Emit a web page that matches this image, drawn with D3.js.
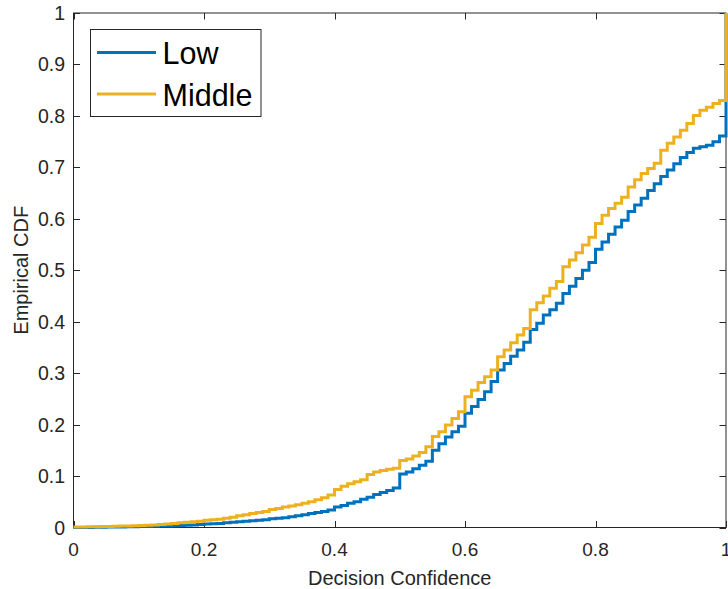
<!DOCTYPE html>
<html>
<head>
<meta charset="utf-8">
<script src="https://cdn.jsdelivr.net/npm/d3@7"></script>
<style>
  html, body { margin: 0; padding: 0; background: #fff; }
  svg { display: block; font-family: "Liberation Sans", Arial, Helvetica, sans-serif; }
</style>
</head>
<body>
<svg id="chart" width="728" height="589"></svg>
<script>
// Confidence levels (step positions of the empirical CDF), 0.00 .. 1.00
const confidence = d3.range(0, 101).map(i => i / 100);

// Empirical CDF value held from each confidence level onward
const cdfLow = [
  0, 0, 0, 0.0005, 0.0005, 0.001, 0.001, 0.001, 0.0015, 0.0015,
  0.002, 0.002, 0.0025, 0.003, 0.003, 0.0035, 0.004, 0.0045, 0.005, 0.006,
  0.007, 0.0075, 0.008, 0.009, 0.010, 0.011, 0.012, 0.013, 0.014, 0.015,
  0.017, 0.018, 0.019, 0.021, 0.023, 0.025, 0.027, 0.029, 0.031, 0.034,
  0.040, 0.043, 0.047, 0.050, 0.055, 0.059, 0.064, 0.068, 0.072, 0.077,
  0.104, 0.108, 0.114, 0.121, 0.129, 0.150, 0.163, 0.176, 0.186, 0.197,
  0.222, 0.235, 0.249, 0.264, 0.284, 0.306, 0.319, 0.333, 0.345, 0.360,
  0.385, 0.397, 0.413, 0.423, 0.436, 0.455, 0.469, 0.484, 0.500, 0.515,
  0.541, 0.555, 0.570, 0.584, 0.597, 0.614, 0.627, 0.640, 0.655, 0.668,
  0.682, 0.695, 0.707, 0.719, 0.729, 0.737, 0.740, 0.743, 0.750, 0.761,
  1
];

const cdfMiddle = [
  0.001, 0.001, 0.0015, 0.0015, 0.002, 0.002, 0.0025, 0.003, 0.003, 0.0035,
  0.004, 0.0045, 0.005, 0.006, 0.007, 0.008, 0.009, 0.010, 0.011, 0.012,
  0.014, 0.015, 0.016, 0.018, 0.020, 0.023, 0.025, 0.027, 0.029, 0.031,
  0.035, 0.037, 0.040, 0.042, 0.044, 0.047, 0.050, 0.054, 0.058, 0.063,
  0.074, 0.080, 0.085, 0.089, 0.093, 0.103, 0.108, 0.111, 0.113, 0.115,
  0.130, 0.133, 0.139, 0.146, 0.157, 0.177, 0.186, 0.199, 0.212, 0.225,
  0.254, 0.267, 0.282, 0.293, 0.306, 0.332, 0.345, 0.359, 0.374, 0.387,
  0.423, 0.437, 0.450, 0.465, 0.478, 0.507, 0.520, 0.534, 0.549, 0.564,
  0.591, 0.607, 0.620, 0.630, 0.642, 0.662, 0.676, 0.688, 0.698, 0.708,
  0.733, 0.747, 0.759, 0.772, 0.785, 0.801, 0.811, 0.817, 0.824, 0.830,
  1
];

const seriesNames = ["Low", "Middle"];
const seriesColors = ["#0072BD", "#EDB120"];
const xTicks = [0, 0.2, 0.4, 0.6, 0.8, 1];
const yTicks = [0, 0.1, 0.2, 0.3, 0.4, 0.5, 0.6, 0.7, 0.8, 0.9, 1];
const xLabel = "Decision Confidence";
const yLabel = "Empirical CDF";

const svg = d3.select("#chart");
const plotLeft = 73.5, plotRight = 726, plotTop = 13, plotBottom = 527.5;
const axisColor = "#262626";

const x = d3.scaleLinear().domain([0, 1]).range([plotLeft, plotRight]);
const y = d3.scaleLinear().domain([0, 1]).range([plotBottom, plotTop]);

const fmt = d => d === 0 || d === 1 ? String(d) : d.toFixed(1);

// Box and inward ticks
const g = svg.append("g");
g.append("rect")
  .attr("x", plotLeft).attr("y", plotTop)
  .attr("width", plotRight - plotLeft).attr("height", plotBottom - plotTop)
  .attr("fill", "none").attr("stroke", axisColor).attr("stroke-width", 1);

const tickLen = 6.5;
g.selectAll(".xt").data(xTicks).join("g").each(function(d) {
  const s = d3.select(this), px = Math.round(x(d)) + 0.5;
  s.append("line").attr("x1", px).attr("x2", px).attr("y1", plotBottom).attr("y2", plotBottom - tickLen)
    .attr("stroke", axisColor);
  s.append("line").attr("x1", px).attr("x2", px).attr("y1", plotTop).attr("y2", plotTop + tickLen)
    .attr("stroke", axisColor);
  s.append("text").attr("x", x(d)).attr("y", 556)
    .attr("text-anchor", "middle").attr("font-size", 19).attr("fill", axisColor)
    .text(fmt(d));
});

g.selectAll(".yt").data(yTicks).join("g").each(function(d) {
  const s = d3.select(this), py = Math.round(y(d)) + 0.5;
  s.append("line").attr("x1", plotLeft).attr("x2", plotLeft + tickLen).attr("y1", py).attr("y2", py)
    .attr("stroke", axisColor);
  s.append("line").attr("x1", plotRight).attr("x2", plotRight - tickLen).attr("y1", py).attr("y2", py)
    .attr("stroke", axisColor);
  s.append("text").attr("x", 65).attr("y", y(d) + 7)
    .attr("text-anchor", "end").attr("font-size", 19.5).attr("fill", axisColor)
    .text(fmt(d));
});

// Axis titles
svg.append("text").attr("x", (plotLeft + plotRight) / 2).attr("y", 585)
  .attr("text-anchor", "middle").attr("font-size", 20).attr("fill", axisColor)
  .text(xLabel);
svg.append("text")
  .attr("transform", `translate(28,${(plotTop + plotBottom) / 2}) rotate(-90)`)
  .attr("text-anchor", "middle").attr("font-size", 20).attr("fill", axisColor)
  .text(yLabel);

// ECDF staircases
const line = d3.line()
  .x(d => x(d[0]))
  .y(d => y(d[1]))
  .curve(d3.curveStepAfter);

[cdfLow, cdfMiddle].forEach((vals, i) => {
  const pts = confidence.map((c, k) => [c, vals[k]]);
  svg.append("path")
    .datum(pts)
    .attr("d", line)
    .attr("fill", "none")
    .attr("stroke", seriesColors[i])
    .attr("stroke-width", 3)
    .attr("stroke-linejoin", "miter");
});

// Legend
const lg = svg.append("g");
lg.append("rect")
  .attr("x", 90.5).attr("y", 29.5).attr("width", 170.5).attr("height", 87)
  .attr("fill", "#fff").attr("stroke", axisColor).attr("stroke-width", 1);
const legendY = [52.5, 94];
seriesNames.forEach((name, i) => {
  lg.append("line")
    .attr("x1", 97).attr("x2", 156).attr("y1", legendY[i]).attr("y2", legendY[i])
    .attr("stroke", seriesColors[i]).attr("stroke-width", 3);
  lg.append("text")
    .attr("x", 162.5).attr("y", legendY[i] + 11.5)
    .attr("font-size", 30.5).attr("fill", "#000")
    .text(name);
});
</script>
</body>
</html>
